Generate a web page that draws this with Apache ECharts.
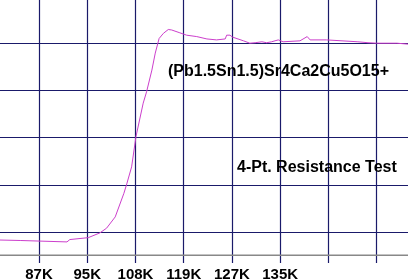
<!DOCTYPE html>
<html><head><meta charset="utf-8">
<script src="https://cdn.jsdelivr.net/npm/echarts@6/dist/echarts.min.js"></script>
<style>html,body{margin:0;padding:0;background:#fff}#c{width:408px;height:279px}</style>
</head><body><div id="c"></div>
<script>
// x positions in grid-column units (0 = "87K" column), y in grid-row units
const tickLabels = ['87K','95K','108K','119K','127K','135K','',''];
const xVals = [-0.81,-0.39,-0.37,0.58,0.64,1.02,1.26,1.40,1.58,1.76,1.82,1.92,2.01,2.16,2.23,2.34,2.41,2.49,2.58,2.68,2.75,2.92,3.06,3.27,3.48,3.68,3.86,3.89,3.96,4.01,4.24,4.37,4.48,4.62,4.72,4.82,4.96,5.06,5.41,5.56,5.62,5.96,6.61,6.82,7.00,7.42,7.65];
const yVals = [-0.17,-0.18,-0.21,-0.21,-0.16,-0.12,-0.02,0.08,0.32,0.82,1.02,1.38,2.02,2.73,2.97,3.43,3.79,4.10,4.21,4.29,4.28,4.22,4.17,4.14,4.09,4.07,4.09,4.17,4.17,4.13,4.05,4.00,4.01,4.03,4.01,4.03,4.07,4.03,4.05,4.14,4.07,4.07,4.03,4.01,4.00,4.00,3.98];
const baseLineY = -0.49;
const title1 = '(Pb1.5Sn1.5)Sr4Ca2Cu5O15+';
const title2 = '4-Pt. Resistance Test';

const navy = '#1a1a6a';
const font = 'Liberation Sans, Arial, sans-serif';
const chart = echarts.init(document.getElementById('c'), null, {renderer:'canvas'});
const gL = 39 - 48.24, gR = 408 - (39 + 8*48.24);
chart.setOption({
  animation:false,
  backgroundColor:'#ffffff',
  textStyle:{fontFamily:font},
  title:[
    {text:title1,left:168,top:64,padding:0,textStyle:{fontSize:16,fontWeight:'bold',color:'#000',fontFamily:font}},
    {text:title2,left:237,top:160,padding:0,textStyle:{fontSize:16,fontWeight:'bold',color:'#000',fontFamily:font}}
  ],
  grid:[
    {left:gL,right:gR,top:0,bottom:16,containLabel:false,outerBoundsMode:'none'},
    {left:gL,right:gR,top:232-5*47.2,bottom:279-(232+47.2),containLabel:false,outerBoundsMode:'none'}
  ],
  xAxis:[
    {type:'value',gridIndex:0,min:-1,max:8,interval:1,
     axisLine:{show:false},axisTick:{show:false},
     splitLine:{show:true,lineStyle:{color:navy,width:1.2}},
     axisLabel:{show:true,margin:4,fontSize:15,fontWeight:'bold',color:'#000',
       fontFamily:font,hideOverlap:false,
       formatter:v=>(v>=0&&v<tickLabels.length)?tickLabels[v]:''}},
    {type:'value',gridIndex:1,min:-1,max:8,interval:1,show:false,splitLine:{show:false}}
  ],
  yAxis:[
    {type:'value',gridIndex:0,min:0,max:1,show:false,splitLine:{show:false}},
    {type:'value',gridIndex:1,min:-1,max:5,interval:1,
     axisLine:{show:false},axisTick:{show:false},axisLabel:{show:false},
     splitLine:{show:true,lineStyle:{color:navy,width:1.2}}}
  ],
  series:[{
    type:'line',xAxisIndex:1,yAxisIndex:1,showSymbol:false,clip:false,z:3,
    lineStyle:{color:'#cc3fcc',width:1},
    data:xVals.map((x,i)=>[x,yVals[i]])
  },{
    type:'line',xAxisIndex:1,yAxisIndex:1,showSymbol:false,clip:false,silent:true,z:1,
    lineStyle:{color:'#888888',width:1.5},
    data:[[-0.9,baseLineY],[7.8,baseLineY]]
  }]
});
</script></body></html>
